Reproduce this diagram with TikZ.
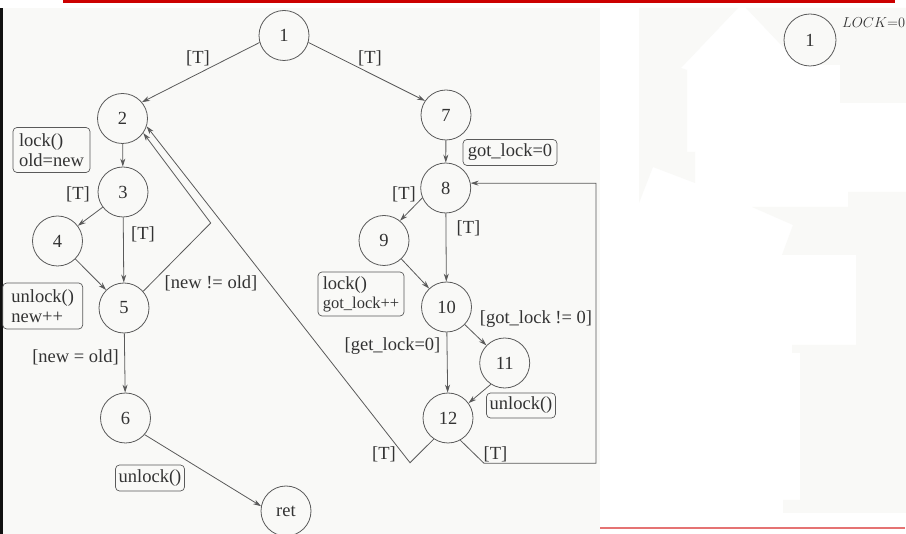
\documentclass[tikz,border=0pt]{standalone}
\usepackage{fontspec}
\setmainfont{Liberation Serif}
\usetikzlibrary{arrows.meta}
\definecolor{paper}{HTML}{F9F9F7}
\definecolor{ink}{HTML}{5A5A5A}
\definecolor{txt}{HTML}{333333}
\definecolor{bar}{HTML}{CC0000}
\definecolor{thinbar}{HTML}{E57373}
\definecolor{edge}{HTML}{111111}

\begin{document}
\begin{tikzpicture}[x=1pt,y=-1pt,
  state/.style={circle,draw=ink,line width=0.8pt,minimum size=50pt,inner sep=0pt,
    text=txt,font=\fontsize{18.5}{20}\selectfont},
  flow/.style={draw=ink,line width=0.8pt,-{Stealth[length=8pt,width=5pt]}},
  guard/.style={text=txt,inner sep=0pt,font=\fontsize{18.5}{20}\selectfont},
  action/.style={draw=ink,rounded corners=4pt,line width=0.7pt,text=txt,align=left,
    inner xsep=3pt,inner ysep=1pt,font=\fontsize{18.5}{20}\selectfont},
]
% page frame and backgrounds
\clip (0,0) rectangle (906,534);
\fill[white] (0,0) rectangle (906,534);
\fill[paper] (3,8) rectangle (600,534);
\fill[edge] (0,8) rectangle (2.5,534);
\fill[bar] (63,0) rectangle (895,3);
\fill[thinbar] (600,527) rectangle (905,529.5);
% light panels on the right side
\fill[paper] (639,8) -- (738,8) -- (681,68) -- (687,70) -- (687,152) -- (695,152)
  -- (695,183) -- (653,167) -- (639,203) -- cycle;
\fill[paper] (746,8) -- (906,8) -- (906,103) -- (840,103) -- (840,65) -- (800,65) -- cycle;
\fill[paper] (752,207) -- (848,207) -- (848,192) -- (906,192) -- (906,255) -- (782,255)
  -- (793,225) -- cycle;
\fill[paper] (856,255) -- (906,255) -- (906,513) -- (783,513) -- (783,500) -- (800,500)
  -- (800,353) -- (792,353) -- (792,345) -- (856,345) -- cycle;

% states
\node[state] (n1) at (284,35.5) {1};
\node[state] (n2) at (122.5,118.5) {2};
\node[state] (n3) at (123,192) {3};
\node[state] (n4) at (57.5,241) {4};
\node[state] (n5) at (124,308) {5};
\node[state] (n6) at (125.5,418) {6};
\node[state] (ret) at (286,511) {ret};
\node[state] (n7) at (446,115) {7};
\node[state] (n8) at (445.7,188) {8};
\node[state] (n9) at (384,240.5) {9};
\node[state] (n10) at (446.5,307) {10};
\node[state] (n11) at (504.7,363) {11};
\node[state] (n12) at (448,418) {12};

% actions attached to states
\node[action,minimum width=77pt,minimum height=45pt] (a2) at (51.5,150) {lock()\\old=new};
\node[action,minimum width=80pt,minimum height=46pt] (a5) at (42.7,306) {unlock()\\new++};
\node[action,minimum width=94pt,minimum height=26pt] (a7) at (510,152.5) {got\_lock=0};
\node[action,minimum width=86pt,minimum height=44pt] (a9) at (361,294)
  {lock()\\[-1pt]{\fontsize{16.5}{18}\selectfont got\_lock++}};
\node[action,minimum width=69pt,minimum height=25pt] (a11) at (521,405.5) {unlock()};
\node[action,minimum width=69pt,minimum height=26pt] (a6) at (150,478) {unlock()};

% transitions
\draw[flow] (n1.196) -- (n2.40);
\draw[flow] (n1.344) -- (n7.146);
\draw[flow] (n2) -- (n3);
\draw[flow] (n3) -- (n4);
\draw[flow] (n3) -- (n5);
\draw[flow] (n4) -- (n5);
\coordinate (k5) at (210.7,223);
\draw[flow] (n5.41) -- (k5) -- (n2.325);
\draw[flow] (n5) -- (n6);
\draw[flow] (n6.319) -- (ret.169);
\draw[flow] (n7) -- (n8);
\draw[flow] (n8.203) -- (n9.51);
\draw[flow] (n8) -- (n10);
\draw[flow] (n9) -- (n10);
\draw[flow] (n10) -- (n11);
\draw[flow] (n10) -- (n12);
\draw[flow] (n11.237) -- (n12.36);
\coordinate (k12a) at (410,462.7);
\draw[flow] (n12.236) -- (k12a) -- (n2.342);
\coordinate (k12b) at (484,463.3);
\coordinate (k12c) at (596,463.3);
\coordinate (k12d) at (596,183.3);
\draw[flow] (n12.299) -- (k12b) -- (k12c) -- (k12d) -- (n8.11);

% guards
\node[guard] (g12) at (198,58) {[T]};
\node[guard] (g17) at (370,58) {[T]};
\node[guard] (g34) at (78,194) {[T]};
\node[guard] (g35) at (143,234) {[T]};
\node[guard] (g52) at (211,283) {[new != old]};
\node[guard] (g56) at (75.5,357) {[new = old]};
\node[guard] (g89) at (404,194) {[T]};
\node[guard] (g810) at (468.5,228) {[T]};
\node[guard] (g1011) at (536,319) {[got\_lock != 0]};
\node[guard] (g1012) at (392.5,346.5) {[get\_lock=0]};
\node[guard] (g122) at (384,454) {[T]};
\node[guard] (g128) at (495.5,454.5) {[T]};

% initial state of the lock model
\node[state,minimum size=52pt] (m1) at (810,40) {1};
\node[anchor=base west,text=txt,inner sep=0pt,font=\fontsize{15}{16}\selectfont] (lk) at (842,28) {$LOCK{=}0$};
\end{tikzpicture}
\end{document}
